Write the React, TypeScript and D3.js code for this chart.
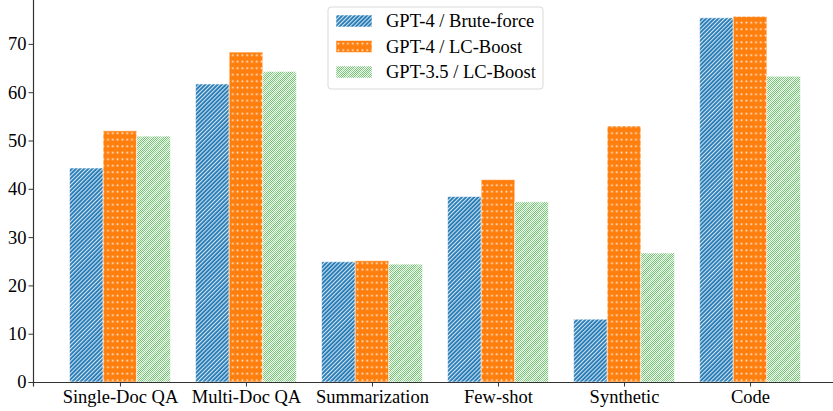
import React, { useEffect, useRef } from 'react';
import * as d3 from 'd3';

const categories = ['Single-Doc QA', 'Multi-Doc QA', 'Summarization', 'Few-shot', 'Synthetic', 'Code'];
const seriesNames = ['GPT-4 / Brute-force', 'GPT-4 / LC-Boost', 'GPT-3.5 / LC-Boost'];
const bruteForce = [44.3, 61.7, 24.9, 38.4, 13.0, 75.4];
const lcBoost4 = [52.0, 68.3, 25.1, 41.9, 53.0, 75.7];
const lcBoost35 = [50.9, 64.3, 24.4, 37.3, 26.7, 63.3];
const yTicks = [0, 10, 20, 30, 40, 50, 60, 70];

const patternIds = ['hatchBlue', 'dotOrange', 'checkGreen'];

const App: React.FC = () => {
  const svgRef = useRef<SVGSVGElement>(null);
  const width = 833;
  const height = 411;

  useEffect(() => {
    document.body.style.margin = '0';
    if (!svgRef.current) return;
    const svg = d3.select(svgRef.current);
    svg.selectAll('*').remove();

    const font = '"Liberation Serif", "Times New Roman", serif';
    const series = [bruteForce, lcBoost4, lcBoost35];
    const barW = 0.8 / 3;

    const x = d3.scaleLinear().domain([-0.69, 5.69]).range([33, 837]);
    const y = d3.scaleLinear().domain([0, 79.5]).range([382, -2]);

    // patterns
    const defs = svg.append('defs');
    const pb = defs.append('pattern')
      .attr('id', 'hatchBlue')
      .attr('patternUnits', 'userSpaceOnUse')
      .attr('width', 2.9).attr('height', 2.9)
      .attr('patternTransform', 'rotate(45)');
    pb.append('rect').attr('width', 2.9).attr('height', 2.9).attr('fill', '#1f77b4');
    pb.append('line').attr('x1', 0.6).attr('x2', 0.6).attr('y1', 0).attr('y2', 2.9)
      .attr('stroke', '#ffffff').attr('stroke-width', 1.0).attr('stroke-opacity', 0.9);

    const po = defs.append('pattern')
      .attr('id', 'dotOrange')
      .attr('patternUnits', 'userSpaceOnUse')
      .attr('width', 4.8).attr('height', 6.5);
    po.append('rect').attr('width', 4.8).attr('height', 6.5).attr('fill', '#ff7f0e');
    po.append('rect').attr('x', 1.6).attr('y', 2.4).attr('width', 1.6).attr('height', 1.6)
      .attr('fill', '#ffffff').attr('fill-opacity', 0.95);

    const pc = defs.append('pattern')
      .attr('id', 'checkGreen')
      .attr('patternUnits', 'userSpaceOnUse')
      .attr('width', 2).attr('height', 2);
    pc.append('rect').attr('width', 2).attr('height', 2).attr('fill', '#eef8ee');
    pc.append('rect').attr('x', 0).attr('y', 0).attr('width', 1).attr('height', 1).attr('fill', '#72c272');
    pc.append('rect').attr('x', 1).attr('y', 1).attr('width', 1).attr('height', 1).attr('fill', '#72c272');

    const ps = defs.append('pattern')
      .attr('id', 'stripeGreen')
      .attr('patternUnits', 'userSpaceOnUse')
      .attr('width', 7).attr('height', 7)
      .attr('patternTransform', 'rotate(45)');
    ps.append('line').attr('x1', 1).attr('x2', 1).attr('y1', 0).attr('y2', 7)
      .attr('stroke', '#ffffff').attr('stroke-width', 2).attr('stroke-opacity', 0.3);

    const g = svg.append('g');

    // bars
    series.forEach((vals, si) => {
      vals.forEach((v, ci) => {
        const x0 = x(ci + (si - 1.5) * barW);
        const x1 = x(ci + (si - 0.5) * barW);
        const y0 = y(v);
        const h = y(0) - y0;
        g.append('rect')
          .attr('x', x0).attr('y', y0)
          .attr('width', x1 - x0).attr('height', h)
          .attr('fill', `url(#${patternIds[si]})`)
          .attr('stroke', '#ffffff').attr('stroke-opacity', 0.55).attr('stroke-width', 1);
        if (si === 2) {
          g.append('rect')
            .attr('x', x0).attr('y', y0)
            .attr('width', x1 - x0).attr('height', h)
            .attr('fill', 'url(#stripeGreen)');
        }
      });
    });

    // y axis
    const yAxis = g.append('g')
      .attr('transform', `translate(${x(-0.69)},0)`)
      .call(d3.axisLeft(y).tickValues(yTicks).tickSize(4.5).tickPadding(2).tickFormat(d3.format('d')));
    yAxis.select('.domain').attr('stroke', '#333').attr('stroke-width', 1.2);
    yAxis.selectAll('.tick line').attr('stroke', '#333').attr('stroke-width', 1);
    yAxis.selectAll('text')
      .attr('font-family', font).attr('font-size', 18.5).attr('fill', '#000');

    // x axis
    const xAxis = g.append('g')
      .attr('transform', `translate(0,${y(0)})`)
      .call(d3.axisBottom(x).tickValues(d3.range(categories.length)).tickSize(4.5).tickPadding(3)
        .tickFormat((d) => categories[d as number]));
    xAxis.select('.domain').attr('stroke', '#333').attr('stroke-width', 1.2);
    xAxis.selectAll('.tick line').attr('stroke', '#333').attr('stroke-width', 1);
    xAxis.selectAll('text')
      .attr('font-family', font).attr('font-size', 18.5).attr('fill', '#000');

    // legend
    const legend = svg.append('g').attr('transform', 'translate(328,7)');
    legend.append('rect')
      .attr('width', 215).attr('height', 82).attr('rx', 3)
      .attr('fill', '#fff').attr('fill-opacity', 0.85)
      .attr('stroke', '#d9d9d9').attr('stroke-width', 1);
    seriesNames.forEach((name, i) => {
      const row = legend.append('g').attr('transform', `translate(8,${8 + i * 25.5})`);
      row.append('rect').attr('width', 36).attr('height', 12)
        .attr('fill', `url(#${patternIds[i]})`)
        .attr('stroke', '#ffffff').attr('stroke-opacity', 0.55);
      if (i === 2) {
        row.append('rect').attr('width', 36).attr('height', 12).attr('fill', 'url(#stripeGreen)');
      }
      row.append('text')
        .attr('x', 50).attr('y', 6).attr('dy', '0.35em')
        .attr('font-family', font).attr('font-size', 18.5).attr('fill', '#000')
        .text(name);
    });
  }, []);

  return <svg ref={svgRef} width={width} height={height} style={{ display: 'block' }} />;
};

export default App;
